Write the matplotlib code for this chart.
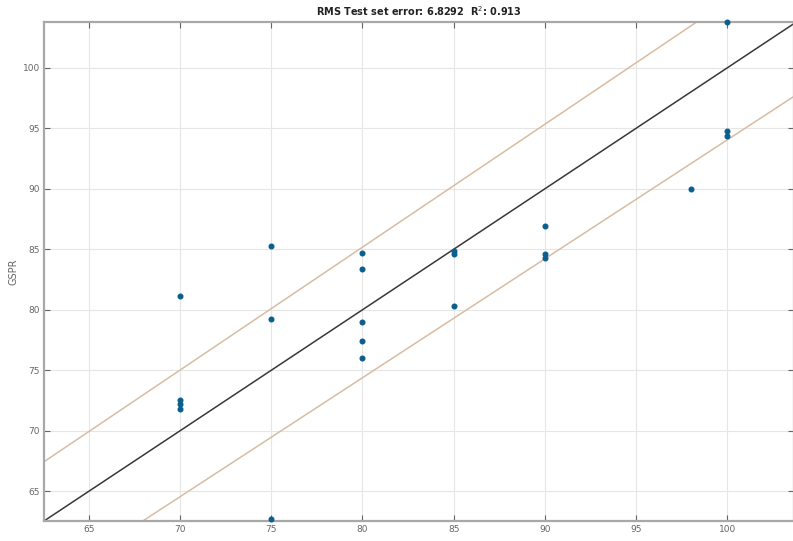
import numpy as np
import matplotlib.pyplot as plt

# observed (x) vs predicted GSPR (y)
obs = [70, 70, 70, 70,
       75, 75, 75,
       80, 80, 80, 80, 80,
       85, 85, 85,
       90, 90, 90,
       98,
       100, 100, 100]
pred = [81.1, 72.5, 72.2, 71.8,
        85.3, 79.2, 62.7,
        84.7, 83.4, 79.0, 77.4, 76.0,
        84.9, 84.6, 80.3,
        86.9, 84.6, 84.3,
        90.0,
        103.8, 94.8, 94.4]

# band lines (end points)
upper_x = [62.53, 98.33]
upper_y = [67.43, 103.8]
lower_x = [67.95, 103.67]
lower_y = [62.53, 97.65]

rmse = 6.8292
r2 = 0.913

xlim = (62.53, 103.67)
ylim = (62.53, 103.8)
ticks = [65, 70, 75, 80, 85, 90, 95, 100]

fig = plt.figure(figsize=(7.93, 5.41), dpi=100)
ax = fig.add_axes([44 / 793, 20 / 541, 750 / 793, 499 / 541])

ax.plot(upper_x, upper_y, color='#d8bca4', lw=1.1, zorder=2)
ax.plot(lower_x, lower_y, color='#d8bca4', lw=1.1, zorder=2)
ax.plot(xlim, xlim, color='#383838', lw=1.1, zorder=2)
ax.scatter(obs, pred, s=11, color='#0b5f8f', zorder=3, clip_on=False)

ax.set_xlim(xlim)
ax.set_ylim(ylim)
ax.set_xticks(ticks)
ax.set_yticks(ticks)
ax.grid(True, color='#e6e6e6', lw=0.8)
ax.set_axisbelow(True)
ax.tick_params(direction='in', length=4, width=0.8, color='#666666',
               labelsize=6.5, labelcolor='#666666', top=True, right=True, pad=3)
for s in ax.spines.values():
    s.set_color('#a8a8a8')
    s.set_linewidth(1.6)

ax.set_ylabel('GSPR', fontsize=7, color='#666666', labelpad=3)
ax.set_title('RMS Test set error: %.4f  R$^2$: %.3f' % (rmse, r2),
             fontsize=7, fontweight='bold', color='#222222', pad=4)

fig.savefig('out.png', dpi=100)
